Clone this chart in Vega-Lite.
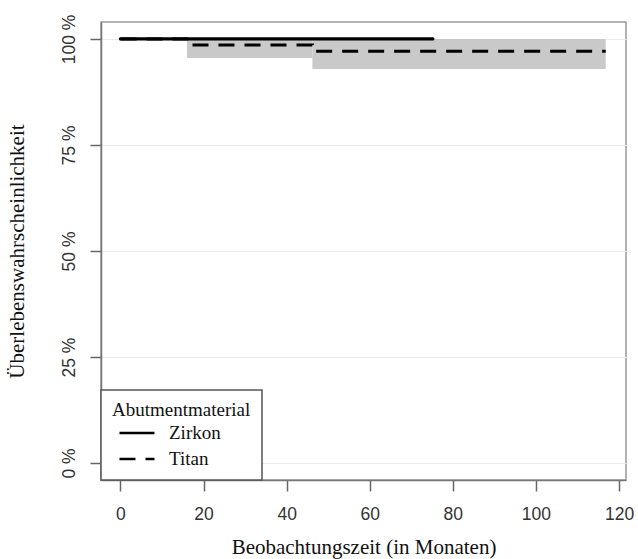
{
  "$schema": "https://vega.github.io/schema/vega-lite/v6.json",
  "width": 525,
  "height": 458,
  "autosize": {"type": "none"},
  "padding": {"left": 101, "top": 22, "right": 12, "bottom": 79},
  "background": "white",
  "config": {
    "view": {"stroke": "#9a9a9a", "strokeWidth": 1.5},
    "axis": {
      "labelFont": "Liberation Sans",
      "labelFontSize": 17.5,
      "labelColor": "#333",
      "titleFont": "Liberation Serif",
      "titleFontSize": 21,
      "titleFontWeight": "normal",
      "titleColor": "#111",
      "domainColor": "#777",
      "domainWidth": 1.5,
      "tickColor": "#666",
      "tickWidth": 1.5,
      "tickSize": 11,
      "gridColor": "#ececec",
      "gridWidth": 1
    },
    "legend": {
      "orient": "bottom-left",
      "offset": 0,
      "fillColor": "white",
      "strokeColor": "#555",
      "strokeWidth": 1.5,
      "padding": 11,
      "titleFont": "Liberation Serif",
      "titleFontSize": 19,
      "titleFontWeight": "normal",
      "titleColor": "#111",
      "titlePadding": -1,
      "labelFont": "Liberation Serif",
      "labelFontSize": 19,
      "labelColor": "#111",
      "symbolType": "M-1.4,0H1.4",
      "symbolSize": 625,
      "symbolStrokeWidth": 2.5,
      "symbolStrokeColor": "black",
      "symbolFillColor": "transparent",
      "symbolOffset": 11,
      "rowPadding": 2,
      "labelOffset": 18
    }
  },
  "datasets": {
    "ci": [
      {"start": 16.0, "end": 46.2, "lower": 0.955, "upper": 1.0},
      {"start": 46.2, "end": 116.8, "lower": 0.929, "upper": 1.0}
    ],
    "surv": [
      {"material": "Titan", "time": 0, "survival": 1.0},
      {"material": "Titan", "time": 16.0, "survival": 0.986},
      {"material": "Titan", "time": 46.2, "survival": 0.971},
      {"material": "Titan", "time": 116.8, "survival": 0.971},
      {"material": "Zirkon", "time": 0, "survival": 1.0},
      {"material": "Zirkon", "time": 75.2, "survival": 1.0}
    ]
  },
  "layer": [
    {
      "data": {"name": "ci"},
      "mark": {"type": "rect", "color": "#c9c9c9", "opacity": 1},
      "encoding": {
        "x": {"field": "start", "type": "quantitative", "scale": {"domain": [-4.68, 121.68], "nice": false, "zero": false},
          "axis": {"values": [0, 20, 40, 60, 80, 100, 120], "grid": false, "title": "Beobachtungszeit (in Monaten)", "labelPadding": 14, "titlePadding": 14}},
        "x2": {"field": "end"},
        "y": {"field": "lower", "type": "quantitative", "scale": {"domain": [-0.04, 1.04], "nice": false, "zero": false},
          "axis": {"values": [0, 0.25, 0.5, 0.75, 1], "grid": true, "title": "Überlebenswahrscheinlichkeit",
            "labelExpr": "format(datum.value*100, 'd') + ' %'", "labelAngle": -90, "labelAlign": "center", "labelBaseline": "bottom", "labelPadding": 12, "titlePadding": 33}},
        "y2": {"field": "upper"}
      }
    },
    {
      "data": {"name": "surv"},
      "transform": [{"filter": "datum.material === 'Titan'"}],
      "mark": {"type": "line", "interpolate": "step-after", "color": "black", "strokeWidth": 3, "strokeCap": "butt"},
      "encoding": {
        "x": {"field": "time", "type": "quantitative"},
        "y": {"field": "survival", "type": "quantitative"},
        "strokeDash": {"field": "material", "type": "nominal",
          "scale": {"domain": ["Zirkon", "Titan"], "range": [[1, 0], [16, 10]]},
          "legend": {"title": "Abutmentmaterial"}}
      }
    },
    {
      "data": {"name": "surv"},
      "transform": [{"filter": "datum.material === 'Zirkon'"}],
      "mark": {"type": "line", "interpolate": "step-after", "color": "black", "strokeWidth": 3.2, "strokeCap": "round"},
      "encoding": {
        "x": {"field": "time", "type": "quantitative"},
        "y": {"field": "survival", "type": "quantitative"},
        "strokeDash": {"field": "material", "type": "nominal"}
      }
    }
  ]
}
